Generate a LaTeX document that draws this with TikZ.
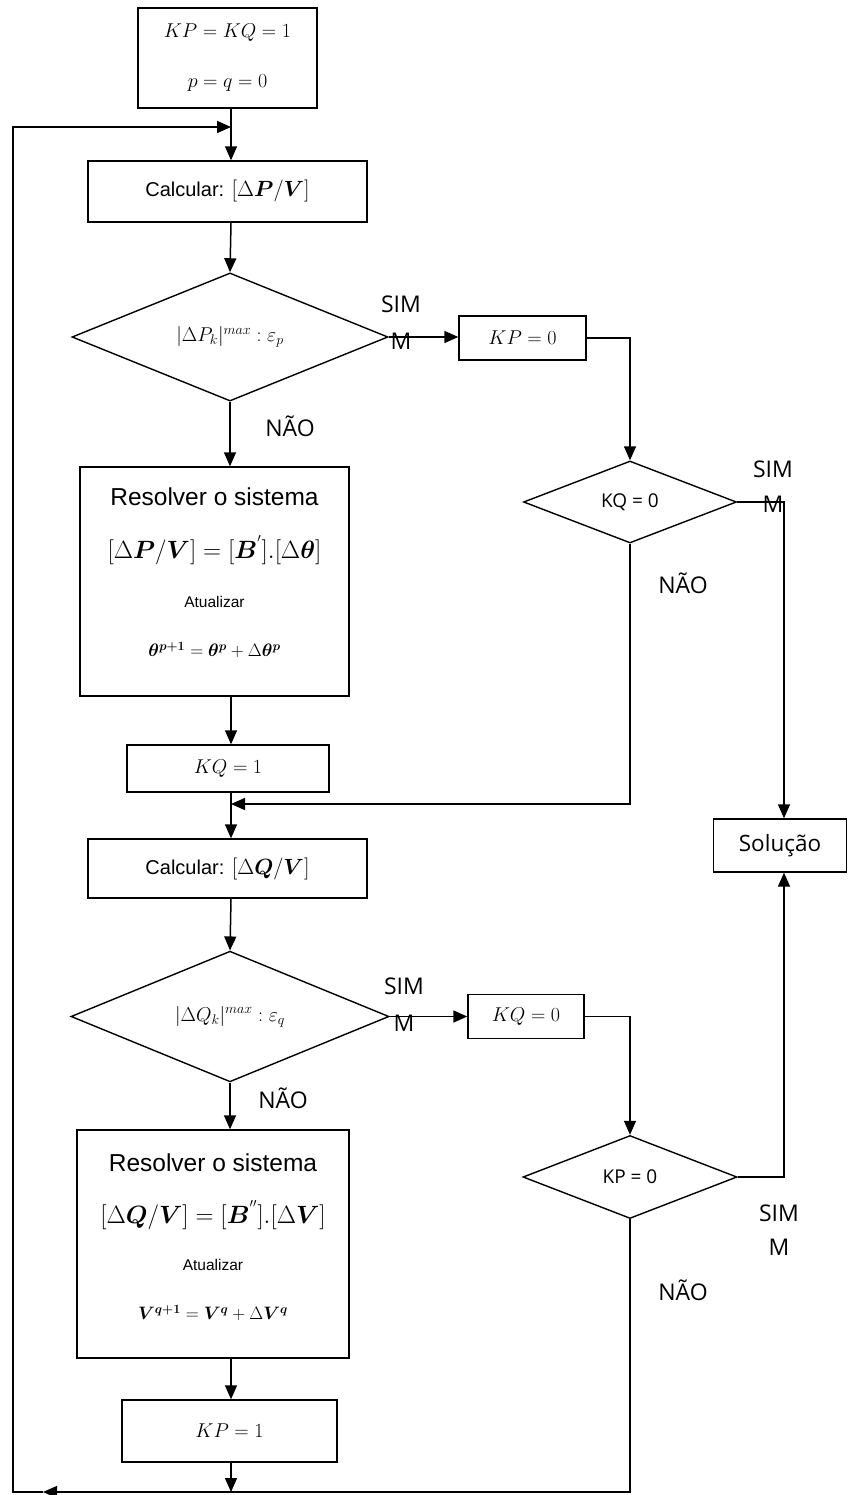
\documentclass[tikz,border=0pt]{standalone}
\usepackage{fix-cm}
\usepackage{amsmath,bm}
\usepackage{fontspec}
\newfontfamily\arialf{Liberation Sans}
\newfontfamily\osf{Open Sans}
\usetikzlibrary{arrows.meta,shapes.geometric}

\begin{document}
\begin{tikzpicture}[x=1pt,y=-1pt,
  box/.style={draw, line width=1.4pt, inner sep=0pt},
  dia/.style={draw, diamond, line width=1.4pt, inner sep=0pt},
  arr/.style={line width=1.5pt, -{Triangle[length=14pt,width=12pt]}},
  mt/.style={font=\fontsize{20}{24}\selectfont, inner sep=0pt},
  atxt/.style={font=\arialf\fontsize{20}{24}\selectfont, inner sep=0pt},
  lbl/.style={font=\osf\fontsize{23}{37}\selectfont, align=center, inner sep=0pt},
]
\useasboundingbox (0,0) rectangle (847,1495);

% column reference coordinates
\coordinate (colx) at (231,0);
\coordinate (rc) at (784,0);

% ---- main column ----
\node[box, minimum width=179pt, minimum height=100pt] (init) at (227.5,58) {};
\node[mt] (initA) at (227.5,33) {$KP = KQ = 1$};
\node[mt] (initB) at (227.5,83) {$p = q = 0$};

\node[box, atxt, minimum width=279pt, minimum height=61pt] (calc1) at (227.5,191.5)
  {Calcular: {\fontsize{22}{24}\selectfont$[\Delta\bm{P}/\bm{V}]$}};

\node[dia, mt, minimum width=316pt, minimum height=106pt] (d1) at (230,337)
  {$|\Delta P_k|^{max}:\varepsilon_p$};

\node[box, minimum width=269pt, minimum height=229pt] (r1) at (214.5,581.5) {};
\node[atxt, font=\arialf\fontsize{24.5}{27}\selectfont] (r1a) at (214.5,497) {Resolver o sistema};
\node[mt, font=\fontsize{25}{28}\selectfont] (r1b) at (214.5,550) {$[\Delta\bm{P}/\bm{V}]=[\bm{B}^{'}].[\Delta\bm{\theta}]$};
\node[atxt, font=\arialf\fontsize{15.5}{18}\selectfont] (r1c) at (214.5,602) {Atualizar};
\node[mt, font=\fontsize{18}{21}\selectfont] (r1d) at (214.5,650) {$\bm{\theta}^{\bm{p+1}}=\bm{\theta}^{\bm{p}}+\Delta\bm{\theta}^{\bm{p}}$};

\node[box, mt, minimum width=202pt, minimum height=47pt] (kq1) at (228,768.5) {$KQ = 1$};

\node[box, atxt, minimum width=279pt, minimum height=59pt] (calc2) at (227.5,868.5)
  {Calcular: {\fontsize{22}{24}\selectfont$[\Delta\bm{Q}/\bm{V}]$}};

\node[dia, mt, minimum width=318pt, minimum height=107pt] (d2) at (230,1016.5)
  {$|\Delta Q_k|^{max}:\varepsilon_q$};

\node[box, minimum width=272pt, minimum height=228pt] (r2) at (213,1244) {};
\node[atxt, font=\arialf\fontsize{24.5}{27}\selectfont] (r2a) at (213,1163) {Resolver o sistema};
\node[mt, font=\fontsize{25}{28}\selectfont] (r2b) at (213,1215) {$[\Delta\bm{Q}/\bm{V}]=[\bm{B}^{''}].[\Delta\bm{V}]$};
\node[atxt, font=\arialf\fontsize{15.5}{18}\selectfont] (r2c) at (213,1265) {Atualizar};
\node[mt, font=\fontsize{18}{21}\selectfont] (r2d) at (213,1313) {$\bm{V}^{\bm{q+1}}=\bm{V}^{\bm{q}}+\Delta\bm{V}^{\bm{q}}$};

\node[box, mt, minimum width=215pt, minimum height=62pt] (kp1) at (229.5,1431) {$KP = 1$};

% ---- right side ----
\node[box, mt, minimum width=127pt, minimum height=44pt] (kp0) at (522.5,338) {$KP = 0$};
\node[dia, font=\osf\fontsize{19}{22}\selectfont, minimum width=213pt, minimum height=82pt] (kq0d) at (630,502) {KQ = 0};

\node[box, font=\osf\fontsize{22.5}{26}\selectfont, minimum width=133pt, minimum height=53pt] (sol) at (780,845.5) {Solução};

\node[box, mt, minimum width=116pt, minimum height=44pt] (kq0) at (526,1016.5) {$KQ = 0$};
\node[dia, font=\osf\fontsize{19}{22}\selectfont, minimum width=214pt, minimum height=83pt] (kp0d) at (630,1177) {KP = 0};

% ---- labels ----
\node[lbl] (sim1) at (401,322.5) {SIM\\M};
\node[lbl] (nao1) at (290,426) {NÃO};
\node[lbl, font=\osf\fontsize{23}{35}\selectfont] (sim2) at (773,487) {SIM\\M};
\node[lbl] (nao2) at (683,583) {NÃO};
\node[lbl] (sim3) at (404,1004.5) {SIM\\M};
\node[lbl] (nao3) at (283,1098) {NÃO};
\node[lbl, font=\osf\fontsize{23}{34}\selectfont] (sim4) at (779,1230) {SIM\\M};
\node[lbl] (nao4) at (683,1290) {NÃO};

% ---- loop coordinates ----
\coordinate (entry) at (231,127);
\coordinate (tl) at (13,127);
\coordinate (bl) at (13,1492);
\coordinate (botarr) at (43,1492);
\coordinate (botmid) at (231,1492);
\coordinate (merge) at (231,804);

% ---- main column connectors ----
\draw[arr] (init.south -| colx) -- (calc1.north -| colx);
\draw[arr] (calc1.south -| colx) -- (d1.north);
\draw[arr] (d1.south) -- (r1.north -| d1.south);
\draw[arr] (r1.south -| colx) -- (kq1.north -| colx);
\draw[arr] (kq1.south -| colx) -- (calc2.north -| colx);
\draw[arr] (calc2.south -| colx) -- (d2.north);
\draw[arr] (d2.south) -- (r2.north -| d2.south);
\draw[arr] (r2.south -| colx) -- (kp1.north -| colx);
\draw[arr] (kp1.south -| colx) -- (botmid);

% ---- branches ----
\draw[arr] (d1.east) -- (kp0.west |- d1.east);
\draw[arr] (kp0.east) -| (kq0d.north);
\draw[arr] (kq0d.east) -| (sol.north -| rc);
\draw[arr] (kq0d.south) |- (merge);

\draw[arr] (d2.east) -- (kq0.west |- d2.east);
\draw[arr] (kq0.east) -| (kp0d.north);
\draw[arr] (kp0d.east) -| (sol.south -| rc);
\draw[arr] (kp0d.south) |- (botarr);
\draw[arr] (botarr) -- (bl) -- (tl) -- (entry);
\end{tikzpicture}
\end{document}
